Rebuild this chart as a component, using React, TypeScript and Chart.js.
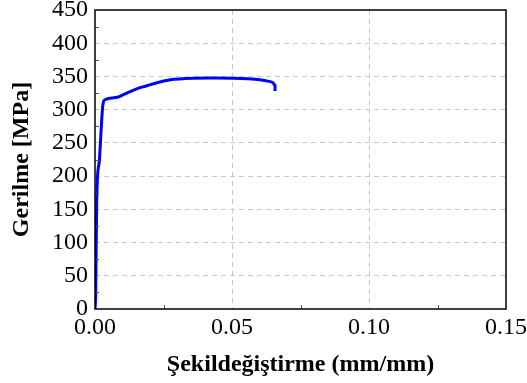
import React, { useEffect, useRef } from "react";
import { Chart, registerables } from "chart.js";

Chart.register(...registerables);

const strain = [0, 0.00025, 0.0006, 0.00085, 0.0016, 0.0023, 0.0027, 0.0031, 0.0037, 0.005, 0.007, 0.0085, 0.01, 0.0116, 0.015, 0.0189, 0.023, 0.0274, 0.032, 0.0359, 0.042, 0.0505, 0.056, 0.0602, 0.063, 0.0651, 0.0657, 0.0657];
const stress = [0, 24, 154, 194, 224, 274, 300, 312, 315, 317, 318, 319, 322, 325, 331, 336, 341, 345, 346.5, 347.4, 347.5, 347.4, 346.5, 345, 343, 340, 336, 328];

const xTitle = "Şekildeğiştirme (mm/mm)";
const yTitle = "Gerilme [MPa]";
const xMinorTicks = [0.025, 0.075, 0.125];
const yMinorTicks = [25, 75, 125, 175, 225, 275, 325, 375, 425];

const framePlugin = {
  id: "frame",
  afterDraw(chart: any) {
    const { ctx, chartArea: a, scales } = chart;
    ctx.save();
    ctx.strokeStyle = "#555";
    ctx.lineWidth = 1;
    ctx.beginPath();
    for (const v of xMinorTicks) {
      const px = Math.round(scales.x.getPixelForValue(v)) + 0.5;
      ctx.moveTo(px, a.bottom);
      ctx.lineTo(px, a.bottom - 4);
    }
    for (const v of yMinorTicks) {
      const py = Math.round(scales.y.getPixelForValue(v)) + 0.5;
      ctx.moveTo(a.left, py);
      ctx.lineTo(a.left + 4, py);
    }
    ctx.stroke();
    ctx.strokeStyle = "#000";
    ctx.lineWidth = 1.5;
    ctx.strokeRect(a.left, a.top, a.right - a.left, a.bottom - a.top);
    ctx.restore();
  },
};

export default function App() {
  const ref = useRef<HTMLCanvasElement>(null);
  useEffect(() => {
    const data = strain.map((x, i) => ({ x, y: stress[i] }));
    const tickFont = { family: "'Liberation Serif', 'Times New Roman', serif", size: 24 };
    const titleFont = { family: "'Liberation Serif', 'Times New Roman', serif", size: 24, weight: "bold" as const };
    const chart = new Chart(ref.current!, {
      type: "scatter",
      data: {
        datasets: [
          {
            data,
            showLine: true,
            borderColor: "#0000ff",
            borderWidth: 3,
            pointRadius: 0,
            cubicInterpolationMode: "monotone",
          },
        ],
      },
      options: {
        animation: false,
        responsive: false,
        layout: { padding: { top: 10, right: 21, left: 0, bottom: 0 } },
        plugins: { legend: { display: false }, tooltip: { enabled: false } },
        scales: {
          x: {
            type: "linear",
            min: 0,
            max: 0.15,
            ticks: {
              stepSize: 0.05,
              color: "#000",
              font: tickFont,
              padding: 4,
              maxRotation: 0,
              callback: (v: any) => Number(v).toFixed(2),
            },
            border: { display: false, dash: [5, 4] },
            grid: {
              color: (c: any) => (c.tick && (c.tick.value === 0 || Math.abs(c.tick.value - 0.15) < 1e-9) ? "rgba(0,0,0,0)" : "#c8c8c8"),
              lineWidth: 1,
              drawTicks: false,
            },
            title: { display: true, text: xTitle, color: "#000", font: titleFont, padding: { top: 0, bottom: 4 } },
            afterFit: (s: any) => {
              s.height = 74;
              s.paddingLeft = 0;
              s.paddingRight = 0;
            },
          },
          y: {
            type: "linear",
            min: 0,
            max: 450,
            ticks: { stepSize: 50, color: "#000", font: tickFont, padding: 7 },
            border: { display: false, dash: [5, 4] },
            grid: {
              color: (c: any) => (c.tick && (c.tick.value === 0 || c.tick.value === 450) ? "rgba(0,0,0,0)" : "#c8c8c8"),
              lineWidth: 1,
              drawTicks: false,
            },
            title: { display: true, text: yTitle, color: "#000", font: titleFont, padding: { top: 7, bottom: 0 } },
            afterFit: (s: any) => {
              s.width = 95;
              s.paddingTop = 0;
              s.paddingBottom = 0;
            },
          },
        },
      },
      plugins: [framePlugin],
    });
    return () => chart.destroy();
  }, []);
  return (
    <div style={{ position: "absolute", left: 0, top: 0, width: 527, height: 383, background: "#fff" }}>
      <canvas ref={ref} width={527} height={383} style={{ display: "block" }} />
    </div>
  );
}
